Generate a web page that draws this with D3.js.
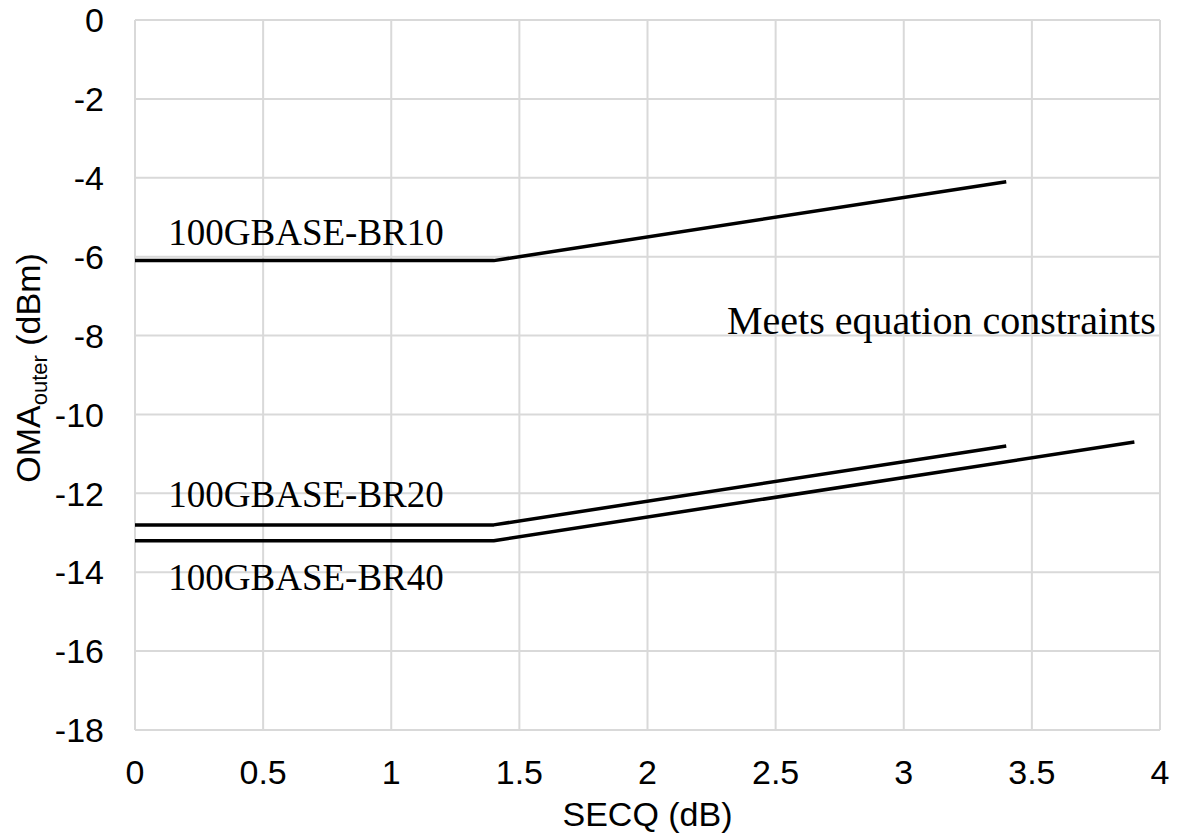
<!DOCTYPE html>
<html>
<head>
<meta charset="utf-8">
<script src="https://cdn.jsdelivr.net/npm/d3@7"></script>
<style>
  body { margin: 0; background: #fff; }
  svg { display: block; }
</style>
</head>
<body>
<svg id="chart" width="1177" height="840"></svg>
<script>
// ---- data ----
const xTicks = [0, 0.5, 1, 1.5, 2, 2.5, 3, 3.5, 4];
const yTicks = [0, -2, -4, -6, -8, -10, -12, -14, -16, -18];
const br10X = [0, 1.4, 3.4];
const br10Y = [-6.1, -6.1, -4.1];
const br20X = [0, 1.4, 3.4];
const br20Y = [-12.8, -12.8, -10.8];
const br40X = [0, 1.4, 3.9];
const br40Y = [-13.2, -13.2, -10.7];
const seriesNames = ["100GBASE-BR10", "100GBASE-BR20", "100GBASE-BR40"];
const annotationText = "Meets equation constraints";
const xTitle = "SECQ (dB)";

// ---- layout ----
(function () {
const svg = d3.select("#chart");
const mLeft = 135, mRight = 1160, mTop = 20, mBottom = 730;
const x = d3.scaleLinear().domain([0, 4]).range([mLeft, mRight]);
const y = d3.scaleLinear().domain([-18, 0]).range([mBottom, mTop]);

const grid = svg.append("g");
grid.selectAll("line.v").data(xTicks).join("line")
  .attr("class", "v")
  .attr("x1", d => x(d)).attr("x2", d => x(d))
  .attr("y1", mTop).attr("y2", mBottom)
  .attr("stroke", "#d9d9d9").attr("stroke-width", 2);
grid.selectAll("line.h").data(yTicks).join("line")
  .attr("class", "h")
  .attr("x1", mLeft).attr("x2", mRight)
  .attr("y1", d => y(d)).attr("y2", d => y(d))
  .attr("stroke", "#d9d9d9").attr("stroke-width", 2);

const tickFont = "'Liberation Sans', Arial, sans-serif";
svg.append("g").selectAll("text").data(yTicks).join("text")
  .attr("x", mLeft - 31).attr("y", d => y(d)).attr("dy", "0.36em")
  .attr("text-anchor", "end")
  .attr("font-family", tickFont).attr("font-size", 34).attr("fill", "#000")
  .text(d => String(d));
svg.append("g").selectAll("text").data(xTicks).join("text")
  .attr("x", d => x(d)).attr("y", 784)
  .attr("text-anchor", "middle")
  .attr("font-family", tickFont).attr("font-size", 34).attr("fill", "#000")
  .text(d => String(d));

// axis titles
svg.append("text")
  .attr("x", (mLeft + mRight) / 2).attr("y", 826)
  .attr("text-anchor", "middle")
  .attr("font-family", tickFont).attr("font-size", 34).attr("fill", "#000")
  .text(xTitle);

const yt = svg.append("text")
  .attr("transform", "translate(40,368) rotate(-90)")
  .attr("text-anchor", "middle")
  .attr("font-family", tickFont).attr("font-size", 34).attr("fill", "#000");
yt.append("tspan").text("OMA");
yt.append("tspan").attr("font-size", 22).attr("dy", 7).text("outer");
yt.append("tspan").attr("dy", -7).text(" (dBm)");

// lines
const line = d3.line().x(d => x(d[0])).y(d => y(d[1]));
const series = [d3.zip(br10X, br10Y), d3.zip(br20X, br20Y), d3.zip(br40X, br40Y)];
svg.append("g").selectAll("path").data(series).join("path")
  .attr("d", line)
  .attr("fill", "none").attr("stroke", "#000").attr("stroke-width", 3.5)
  .attr("stroke-linejoin", "round");

// annotations
const serif = "'Liberation Serif', 'Times New Roman', serif";
const labelPos = [[0.13, -5.7], [0.13, -12.35], [0.13, -14.45]];
svg.append("g").selectAll("text").data(seriesNames).join("text")
  .attr("x", (d, i) => x(labelPos[i][0]))
  .attr("y", (d, i) => y(labelPos[i][1]))
  .attr("font-family", serif).attr("font-size", 37).attr("fill", "#000")
  .text(d => d);
svg.append("text")
  .attr("x", x(2.31)).attr("y", y(-7.95))
  .attr("font-family", serif).attr("font-size", 40).attr("fill", "#000")
  .text(annotationText);
})();
</script>
</body>
</html>
